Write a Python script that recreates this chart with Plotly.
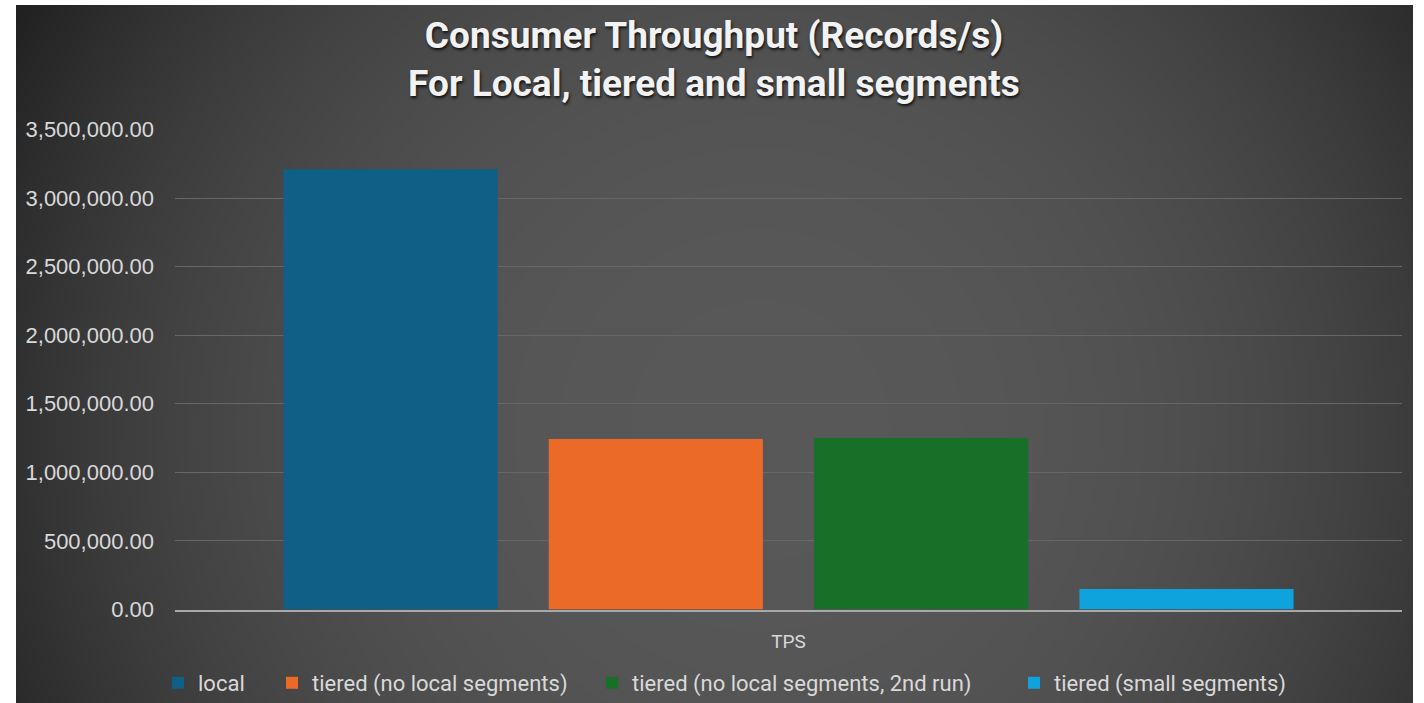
import numpy as np
import plotly.graph_objects as go

# --- data -------------------------------------------------------------
category = ["TPS"]
series_names = [
    "local",
    "tiered (no local segments)",
    "tiered (no local segments, 2nd run)",
    "tiered (small segments)",
]
throughput = [3210000, 1243000, 1250000, 149000]
series_colors = ["#0f5f87", "#ec6a28", "#187028", "#0ea3dd"]

y_ticks = [0, 500000, 1000000, 1500000, 2000000, 2500000, 3000000, 3500000]

W, H = 1424, 703

# --- radial background (dark theme chart area) -------------------------
bg_x = np.linspace(16, 1413, 140)
bg_y = np.linspace(5, 703, 70)
gx, gy = np.meshgrid(bg_x, bg_y)
dist = np.hypot(gx - 760, gy - 430)
shade = np.clip(88 - 55 * (dist / 850) ** 2.5, 28, 90)

fig = go.Figure()
fig.add_trace(go.Heatmap(
    x=bg_x, y=bg_y, z=shade,
    zmin=0, zmax=255,
    colorscale=[[0, "rgb(0,0,0)"], [1, "rgb(255,255,255)"]],
    zsmooth="best", showscale=False, hoverinfo="skip",
    xaxis="x", yaxis="y",
))

# one legend box per series so each entry sits under its own column
legend_ids = ["legend", "legend2", "legend3", "legend4"]
legend_left = [158, 272, 592, 1014]

for name, val, col, lid in zip(series_names, throughput, series_colors, legend_ids):
    fig.add_trace(go.Bar(
        x=category, y=[val], name=name,
        marker=dict(color=col, line=dict(width=0)),
        xaxis="x2", yaxis="y2", legend=lid,
    ))

tick_font = dict(family="Liberation Sans, Arial, sans-serif", size=22, color="#d9d9d9")
legend_font = dict(family="Roboto, sans-serif", size=22, color="#d9d9d9")

legends = {}
for lid, lx in zip(legend_ids, legend_left):
    legends[lid] = dict(
        orientation="h", x=lx / W, xanchor="left",
        y=20 / H, yanchor="middle",
        font=legend_font, bgcolor="rgba(0,0,0,0)", itemwidth=30,
    )

fig.update_layout(
    width=W, height=H,
    margin=dict(l=0, r=0, t=0, b=0, autoexpand=False),
    paper_bgcolor="white",
    plot_bgcolor="rgba(0,0,0,0)",
    barmode="group",
    bargap=0.135,
    bargroupgap=0.193,
    title=dict(
        text="Consumer Throughput (Records/s)<br>For Local, tiered and small segments",
        x=714 / W, xanchor="center",
        y=1 - 48 / H, yanchor="top",
        font=dict(family="Roboto, sans-serif", size=37, color="#f2f2f2",
                  weight="bold", shadow="1px 2px 3px rgba(0,0,0,0.8)"),
    ),
    xaxis=dict(domain=[16 / W, 1413 / W], range=[16, 1413], visible=False,
               fixedrange=True),
    yaxis=dict(domain=[0, 698 / H], range=[703, 5], visible=False,
               fixedrange=True),
    xaxis2=dict(
        domain=[175 / W, 1402 / W], anchor="y2",
        showline=True, linecolor="#a8a8a8", linewidth=1.5,
        showgrid=False, ticks="",
        tickfont=dict(family="Roboto, sans-serif", size=19, color="#d9d9d9"),
        ticklabelstandoff=14,
    ),
    yaxis2=dict(
        domain=[93.5 / H, 573.5 / H], anchor="x2",
        range=[0, 3500000], tickvals=y_ticks, tickformat=",.2f",
        showgrid=True, gridcolor="#676767", gridwidth=1,
        zeroline=False, showline=False, ticks="",
        tickfont=tick_font, ticklabelstandoff=20,
    ),
    showlegend=True,
    **legends,
)

fig.write_html("out.html")
